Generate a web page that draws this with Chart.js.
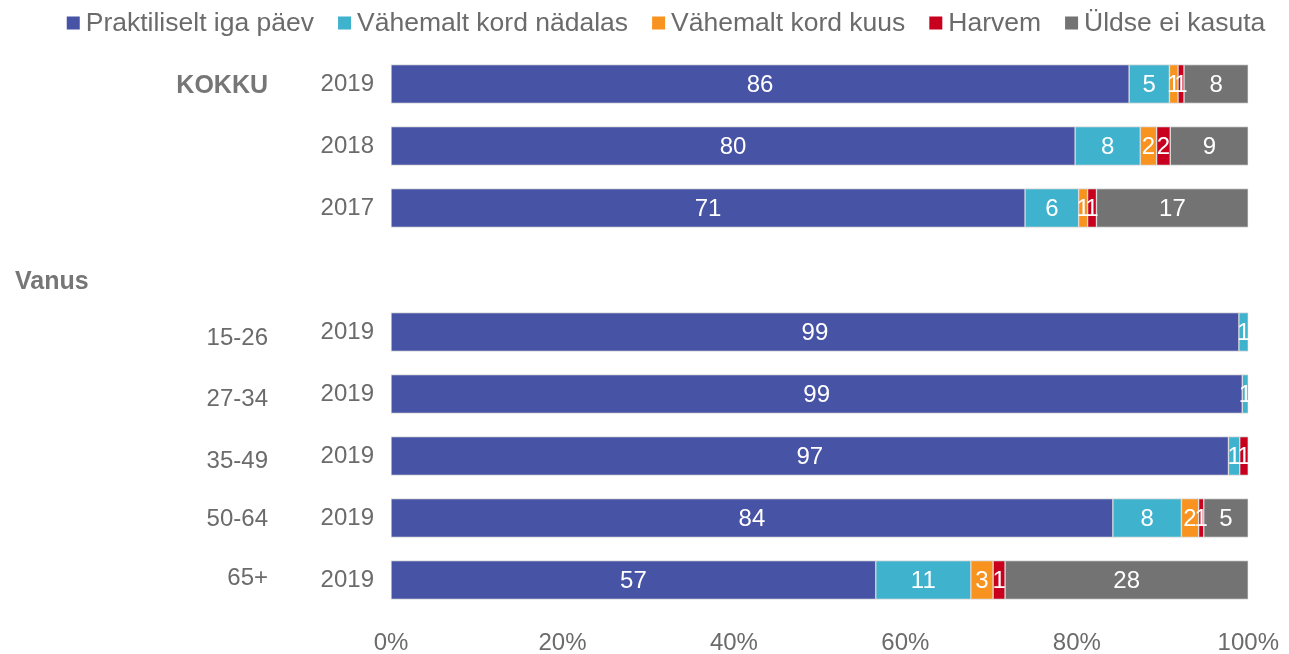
<!DOCTYPE html>
<html>
<head>
<meta charset="utf-8">
<script src="https://cdn.jsdelivr.net/npm/chart.js@4.4.1/dist/chart.umd.min.js"></script>
<style>
  html, body { margin: 0; padding: 0; background: #ffffff; }
  #wrap { width: 1289px; height: 654px; position: relative; }
</style>
</head>
<body>
<div id="wrap"><canvas id="c" width="1289" height="654"></canvas></div>
<script>
// ---- data ----
const years = ['2019', '2018', '2017', '', '2019', '2019', '2019', '2019', '2019'];
const groups = ['KOKKU', '', '', 'Vanus', '15-26', '27-34', '35-49', '50-64', '65+'];
const seriesNames = ['Praktiliselt iga päev', 'Vähemalt kord nädalas', 'Vähemalt kord kuus', 'Harvem', 'Üldse ei kasuta'];
const praktiliselt = [86.1, 79.8, 71, null, 98.9, 99.3, 97.2, 84.2, 56.6];
const nadalas      = [4.7, 7.6, 6, null, 1.1, 0.7, 1.3, 8.0, 11.1];
const kuus         = [1.0, 1.9, 1, null, 0, 0, 0, 2.0, 2.6];
const harvem       = [0.7, 1.6, 1, null, 0, 0, 1.0, 0.6, 1.4];
const eiKasuta     = [7.5, 9.1, 17, null, 0, 0, 0, 5.2, 28.4];
const xTicks = ['0%', '20%', '40%', '60%', '80%', '100%'];

const colors = ['#4753A5', '#3FB2CE', '#F7931E', '#C8001E', '#737373'];
const raw = [praktiliselt, nadalas, kuus, harvem, eiKasuta];

// 100% stacked: normalise every row
const totals = years.map((_, i) => raw.reduce((s, arr) => s + (arr[i] || 0), 0));
const shares = raw.map(arr => arr.map((v, i) => (v === null || totals[i] === 0) ? null : v / totals[i] * 100));

const FONT = "'Liberation Sans', Arial, sans-serif";
const TXT = '#6b6b6b';

const datasets = raw.map((arr, k) => ({
  label: seriesNames[k],
  data: shares[k],
  rawValues: arr,
  backgroundColor: colors[k],
  borderColor: '#d9d9d9',
  borderWidth: 1,
  borderSkipped: false,
  barThickness: 39
}));

const labelPlugin = {
  id: 'segLabels',
  afterDatasetsDraw(chart) {
    const ctx = chart.ctx;
    ctx.save();
    ctx.font = '24px ' + FONT;
    ctx.fillStyle = '#ffffff';
    ctx.textAlign = 'center';
    ctx.textBaseline = 'middle';
    chart.data.datasets.forEach((ds, di) => {
      const meta = chart.getDatasetMeta(di);
      meta.data.forEach((el, i) => {
        const v = ds.rawValues[i];
        if (v === null || v === 0) return;
        const cx = (el.x + el.base) / 2;
        ctx.fillText(String(Math.round(v)), cx, el.y + 1);
      });
    });
    ctx.restore();
  }
};

const groupOffsets = [2, 0, 0, 12, 6, 5, 5, 1, -2];
const groupPlugin = {
  id: 'groupLabels',
  afterDraw(chart) {
    const ctx = chart.ctx;
    const y = chart.scales.y;
    ctx.save();
    ctx.textBaseline = 'middle';
    groups.forEach((g, i) => {
      if (!g) return;
      const py = y.getPixelForValue(i) + groupOffsets[i];
      if (g === 'KOKKU' || g === 'Vanus') {
        ctx.font = 'bold 25px ' + FONT;
        ctx.fillStyle = '#767676';
      } else {
        ctx.font = '24px ' + FONT;
        ctx.fillStyle = TXT;
      }
      if (g === 'Vanus') {
        ctx.textAlign = 'left';
        ctx.fillText(g, 15, py);
      } else {
        ctx.textAlign = 'right';
        ctx.fillText(g, 268, py);
      }
    });
    ctx.restore();
  }
};

const legendPlugin = {
  id: 'customLegend',
  afterDraw(chart) {
    const ctx = chart.ctx;
    ctx.save();
    ctx.font = '26.5px ' + FONT;
    ctx.textBaseline = 'middle';
    ctx.textAlign = 'left';
    const box = 13, gap = 6, spacing = 24;
    const widths = seriesNames.map(n => ctx.measureText(n).width);
    const total = widths.reduce((s, w) => s + box + gap + w, 0) + spacing * (seriesNames.length - 1);
    let x = 666 - total / 2;
    const cy = 23;
    seriesNames.forEach((n, k) => {
      ctx.fillStyle = colors[k];
      ctx.fillRect(x, cy - box / 2, box, box);
      x += box + gap;
      ctx.fillStyle = TXT;
      ctx.fillText(n, x, cy + 1);
      x += widths[k] + spacing;
    });
    ctx.restore();
  }
};

new Chart(document.getElementById('c'), {
  type: 'bar',
  data: { labels: years, datasets },
  options: {
    indexAxis: 'y',
    responsive: false,
    animation: false,
    layout: { padding: { top: 53, right: 34, left: 0, bottom: 0 } },
    plugins: { legend: { display: false }, tooltip: { enabled: false } },
    scales: {
      x: {
        stacked: true,
        min: 0, max: 100,
        grid: { display: false },
        border: { display: false },
        ticks: {
          stepSize: 20,
          padding: 10,
          color: TXT,
          font: { family: FONT, size: 24 },
          callback: (v, i) => xTicks[i]
        },
        afterFit(s) { s.height = 43; }
      },
      y: {
        stacked: true,
        grid: { display: false },
        border: { display: false },
        ticks: {
          padding: 9,
          color: TXT,
          font: { family: FONT, size: 24 }
        },
        afterFit(s) { s.width = 391; }
      }
    }
  },
  plugins: [labelPlugin, groupPlugin, legendPlugin]
});
</script>
</body>
</html>
